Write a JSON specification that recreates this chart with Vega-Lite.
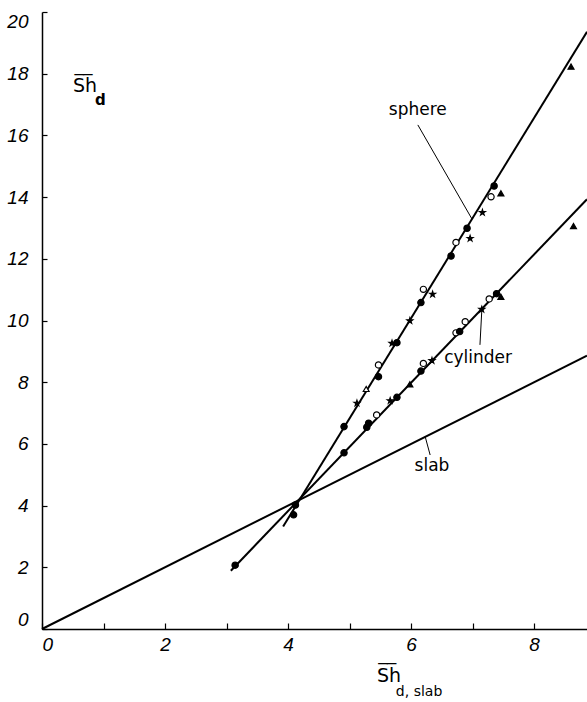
{
  "$schema": "https://vega.github.io/schema/vega-lite/v6.json",
  "width": 545,
  "height": 617,
  "autosize": {"type": "none"},
  "padding": {"left": 42, "top": 12, "right": 0, "bottom": 73},
  "background": "white",
  "config": {"view": {"stroke": null}, "font": "DejaVu Sans"},
  "datasets": {
    "curves": [
      {"series": "slab", "x": 0, "y": 0},
      {"series": "slab", "x": 8.86, "y": 8.86},
      {"series": "sphere", "x": 3.92, "y": 3.32},
      {"series": "sphere", "x": 8.86, "y": 19.36},
      {"series": "cylinder", "x": 3.07, "y": 1.89},
      {"series": "cylinder", "x": 8.86, "y": 13.93}
    ],
    "leaders": [
      {"series": "sphere", "x": 6.11, "y": 16.34, "x2": 6.99, "y2": 13.29},
      {"series": "cylinder", "x": 7.15, "y": 10.34, "x2": 7.12, "y2": 9.21},
      {"series": "slab", "x": 6.23, "y": 6.23, "x2": 6.31, "y2": 5.64}
    ],
    "curveLabels": [
      {"text": "sphere", "x": 6.11, "y": 16.82},
      {"text": "cylinder", "x": 7.09, "y": 8.78},
      {"text": "slab", "x": 6.34, "y": 5.28}
    ],
    "titleMain": [
      {"axis": "y", "text": "S̅h̅", "x": 0.70, "y": 17.6},
      {"axis": "x", "text": "S̅h̅", "x": 5.64, "y": -1.51}
    ],
    "points": [
      {"geometry": "sphere", "x": 4.09, "y": 3.70, "marker": "filled"},
      {"geometry": "sphere", "x": 4.12, "y": 4.02, "marker": "filled"},
      {"geometry": "sphere", "x": 4.91, "y": 6.56, "marker": "filled"},
      {"geometry": "sphere", "x": 5.12, "y": 7.32, "marker": "star"},
      {"geometry": "sphere", "x": 5.27, "y": 7.78, "marker": "open-triangle"},
      {"geometry": "sphere", "x": 5.47, "y": 8.18, "marker": "filled"},
      {"geometry": "sphere", "x": 5.47, "y": 8.56, "marker": "open"},
      {"geometry": "sphere", "x": 5.69, "y": 9.26, "marker": "star"},
      {"geometry": "sphere", "x": 5.77, "y": 9.28, "marker": "filled"},
      {"geometry": "sphere", "x": 5.98, "y": 9.99, "marker": "star"},
      {"geometry": "sphere", "x": 6.16, "y": 10.58, "marker": "filled"},
      {"geometry": "sphere", "x": 6.20, "y": 11.01, "marker": "open"},
      {"geometry": "sphere", "x": 6.35, "y": 10.85, "marker": "star"},
      {"geometry": "sphere", "x": 6.65, "y": 12.09, "marker": "filled"},
      {"geometry": "sphere", "x": 6.73, "y": 12.53, "marker": "open"},
      {"geometry": "sphere", "x": 6.96, "y": 12.66, "marker": "star"},
      {"geometry": "sphere", "x": 6.91, "y": 12.99, "marker": "filled"},
      {"geometry": "sphere", "x": 7.16, "y": 13.50, "marker": "star"},
      {"geometry": "sphere", "x": 7.30, "y": 14.01, "marker": "open"},
      {"geometry": "sphere", "x": 7.35, "y": 14.36, "marker": "filled"},
      {"geometry": "sphere", "x": 7.46, "y": 14.12, "marker": "triangle"},
      {"geometry": "sphere", "x": 8.60, "y": 18.23, "marker": "triangle"},
      {"geometry": "cylinder", "x": 3.14, "y": 2.07, "marker": "filled"},
      {"geometry": "cylinder", "x": 4.91, "y": 5.71, "marker": "filled"},
      {"geometry": "cylinder", "x": 5.28, "y": 6.54, "marker": "filled"},
      {"geometry": "cylinder", "x": 5.31, "y": 6.67, "marker": "filled"},
      {"geometry": "cylinder", "x": 5.44, "y": 6.94, "marker": "open"},
      {"geometry": "cylinder", "x": 5.66, "y": 7.40, "marker": "star"},
      {"geometry": "cylinder", "x": 5.77, "y": 7.51, "marker": "filled"},
      {"geometry": "cylinder", "x": 5.98, "y": 7.93, "marker": "triangle"},
      {"geometry": "cylinder", "x": 6.16, "y": 8.36, "marker": "filled"},
      {"geometry": "cylinder", "x": 6.20, "y": 8.61, "marker": "open"},
      {"geometry": "cylinder", "x": 6.34, "y": 8.70, "marker": "star"},
      {"geometry": "cylinder", "x": 6.73, "y": 9.60, "marker": "open"},
      {"geometry": "cylinder", "x": 6.79, "y": 9.64, "marker": "filled"},
      {"geometry": "cylinder", "x": 6.88, "y": 9.96, "marker": "open"},
      {"geometry": "cylinder", "x": 7.15, "y": 10.36, "marker": "star"},
      {"geometry": "cylinder", "x": 7.27, "y": 10.70, "marker": "open"},
      {"geometry": "cylinder", "x": 7.39, "y": 10.87, "marker": "filled"},
      {"geometry": "cylinder", "x": 7.46, "y": 10.77, "marker": "triangle"},
      {"geometry": "cylinder", "x": 8.64, "y": 13.06, "marker": "triangle"}
    ]
  },
  "layer": [
    {
      "mark": {"type": "rule", "color": "black", "strokeWidth": 1.5},
      "encoding": {
        "y": {"datum": 20, "type": "quantitative", "scale": {"domain": [0, 20], "nice": false, "zero": false}}
      }
    },
    {
      "data": {"name": "curves"},
      "mark": {"type": "line", "color": "black", "strokeWidth": 2},
      "encoding": {
        "x": {
          "field": "x", "type": "quantitative",
          "scale": {"domain": [0, 8.86], "nice": false, "zero": false},
          "axis": {
            "title": null, "grid": false, "format": "d",
            "values": [0, 1, 2, 3, 4, 5, 6, 7, 8],
            "labelExpr": "datum.value % 2 === 0 ? datum.label : ''",
            "labelFlush": true,
            "tickSize": -6, "tickColor": "black", "tickWidth": 1.2,
            "domainColor": "black", "domainWidth": 1.5,
            "labelFont": "Liberation Sans", "labelFontStyle": "italic",
            "labelFontSize": 19, "labelColor": "black", "labelPadding": 12
          }
        },
        "y": {
          "field": "y", "type": "quantitative",
          "scale": {"domain": [0, 20], "nice": false, "zero": false},
          "axis": {
            "title": null, "grid": false, "format": "d",
            "values": [0, 2, 4, 6, 8, 10, 12, 14, 16, 18, 20],
            "labelFlush": true,
            "tickSize": -5, "tickColor": "black", "tickWidth": 1.2,
            "domainColor": "black", "domainWidth": 1.5,
            "labelFont": "Liberation Sans", "labelFontStyle": "italic",
            "labelFontSize": 19, "labelColor": "black", "labelPadding": 19
          }
        },
        "detail": {"field": "series"}
      }
    },
    {
      "data": {"name": "leaders"},
      "mark": {"type": "rule", "color": "black", "strokeWidth": 1},
      "encoding": {
        "x": {"field": "x", "type": "quantitative"},
        "y": {"field": "y", "type": "quantitative"},
        "x2": {"field": "x2"},
        "y2": {"field": "y2"}
      }
    },
    {
      "data": {"name": "points"},
      "mark": {"type": "point", "filled": true, "stroke": "black", "strokeWidth": 1.2, "opacity": 1},
      "encoding": {
        "x": {"field": "x", "type": "quantitative"},
        "y": {"field": "y", "type": "quantitative"},
        "shape": {
          "field": "marker", "type": "nominal", "legend": null,
          "scale": {
            "domain": ["filled", "open", "star", "triangle", "open-triangle"],
            "range": ["circle", "circle", "M0,-1L0.2245,-0.309L0.951,-0.309L0.363,0.118L0.588,0.809L0,0.382L-0.588,0.809L-0.363,0.118L-0.951,-0.309L-0.2245,-0.309Z", "triangle-up", "triangle-up"]
          }
        },
        "fill": {
          "field": "marker", "type": "nominal", "legend": null,
          "scale": {
            "domain": ["filled", "open", "star", "triangle", "open-triangle"],
            "range": ["black", "white", "black", "black", "white"]
          }
        },
        "size": {
          "field": "marker", "type": "nominal", "legend": null,
          "scale": {
            "domain": ["filled", "open", "star", "triangle", "open-triangle"],
            "range": [40, 34, 60, 55, 45]
          }
        }
      }
    },
    {
      "data": {"name": "curveLabels"},
      "mark": {"type": "text", "font": "DejaVu Sans", "fontSize": 17, "color": "black", "align": "center", "baseline": "middle"},
      "encoding": {
        "x": {"field": "x", "type": "quantitative"},
        "y": {"field": "y", "type": "quantitative"},
        "text": {"field": "text"}
      }
    },
    {
      "data": {"name": "titleMain"},
      "mark": {"type": "text", "font": "DejaVu Sans", "fontSize": 19, "color": "black", "align": "center", "baseline": "middle"},
      "encoding": {
        "x": {"field": "x", "type": "quantitative"},
        "y": {"field": "y", "type": "quantitative"},
        "text": {"field": "text"}
      }
    },
    {
      "data": {"values": [{"text": "d", "x": 0.95, "y": 17.15}]},
      "mark": {"type": "text", "font": "DejaVu Sans", "fontSize": 15, "fontWeight": "bold", "color": "black", "align": "center", "baseline": "middle"},
      "encoding": {
        "x": {"field": "x", "type": "quantitative"},
        "y": {"field": "y", "type": "quantitative"},
        "text": {"field": "text"}
      }
    },
    {
      "data": {"values": [{"text": "d, slab", "x": 6.13, "y": -2.03}]},
      "mark": {"type": "text", "font": "DejaVu Sans", "fontSize": 14, "color": "black", "align": "center", "baseline": "middle"},
      "encoding": {
        "x": {"field": "x", "type": "quantitative"},
        "y": {"field": "y", "type": "quantitative"},
        "text": {"field": "text"}
      }
    }
  ]
}
